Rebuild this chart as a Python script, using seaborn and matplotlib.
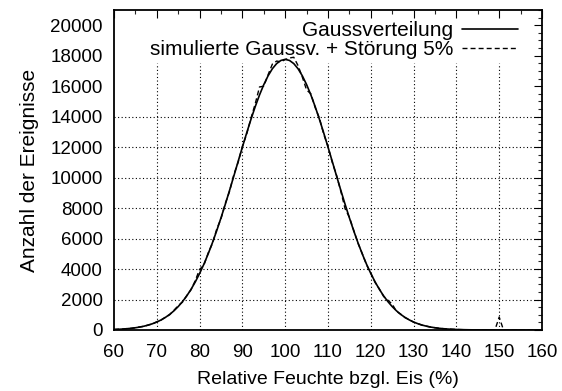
import matplotlib
matplotlib.use("Agg")
import matplotlib.pyplot as plt
import seaborn as sns
import pandas as pd
import numpy as np
from matplotlib.ticker import MultipleLocator

# ---- data ----
x_vals = list(range(60, 161))
gauss = [34, 46, 62, 84, 111, 147, 192, 250, 322, 413,
         524, 660, 825, 1022, 1258, 1537, 1862, 2238, 2670, 3159,
         3710, 4318, 4994, 5727, 6518, 7360, 8244, 9163, 10105, 11058,
         12006, 12933, 13824, 14660, 15425, 16104, 16681, 17145, 17484, 17690,
         17760,
         17690, 17484, 17145, 16681, 16104, 15425, 14660, 13824, 12933, 12006,
         11058, 10105, 9163, 8244, 7360, 6518, 5727, 4994, 4318, 3710,
         3159, 2670, 2238, 1862, 1537, 1258, 1022, 825, 660, 524,
         413, 322, 250, 192, 147, 111, 84, 62, 46, 34,
         25, 18, 13, 9, 6, 4, 3, 2, 1, 1,
         1, 0, 0, 0, 0, 0, 0, 0, 0, 0]
simuliert = [30, 50, 60, 90, 105, 150, 200, 240, 330, 400,
             540, 650, 840, 1000, 1290, 1600, 1830, 2260, 2640, 3250,
             3980, 4250, 5050, 5680, 6620, 7300, 8300, 9100, 10200, 11000,
             12050, 12850, 13900, 14850, 15950, 16000, 16750, 17450, 17650, 17600,
             17750,
             17850, 17900, 17350, 16600, 15750, 15500, 14600, 13900, 12850, 12050,
             11000, 10150, 9100, 7950, 7400, 6550, 5700, 5020, 4280, 3730,
             3120, 2700, 2200, 1950, 1700, 1220, 1040, 810, 680, 510,
             420, 310, 255, 185, 150, 105, 86, 60, 48, 32,
             26, 17, 14, 8, 6, 4, 3, 2, 1, 850,
             1, 0, 0, 0, 0, 0, 0, 0, 0, 0]
x_ticks = [60, 70, 80, 90, 100, 110, 120, 130, 140, 150, 160]
y_ticks = [0, 2000, 4000, 6000, 8000, 10000, 12000, 14000, 16000, 18000, 20000]
label_gauss = "Gaussverteilung"
label_sim = "simulierte Gaussv. + Störung 5%"

df_g = pd.DataFrame({"x": x_vals, "y": gauss})
df_s = pd.DataFrame({"x": x_vals, "y": simuliert})

sns.set_style("white")
plt.rcParams["font.family"] = ["Liberation Sans", "DejaVu Sans"]
plt.rcParams["text.color"] = "black"
plt.rcParams["axes.labelcolor"] = "black"
FS_TICK = 13.5
FS_XLAB = 14
FS_YLAB = 15
FS_LEG = 15

fig = plt.figure(figsize=(5.62, 3.91), dpi=100)
ax = fig.add_axes([114/562, 1 - 330/391, 428/562, 320/391])

# grid (dotted), hidden behind the opaque key area
grid_top = 17500
for gx in x_ticks[1:-1]:
    ax.plot([gx, gx], [0, grid_top], color="black", lw=0.8,
            linestyle=(0, (1, 2.2)), zorder=0.8)
for gy in y_ticks[1:-3]:
    ax.plot([60, 160], [gy, gy], color="black", lw=0.8,
            linestyle=(0, (1, 2.2)), zorder=0.8)

sns.lineplot(data=df_g, x="x", y="y", ax=ax, color="black", lw=1.2,
             label=label_gauss, zorder=3)
sns.lineplot(data=df_s, x="x", y="y", ax=ax, color="black", lw=1.0,
             label=label_sim, zorder=2.9)
ax.lines[-1].set_dashes((3.6, 2.2))

ax.set_xlim(60, 160)
ax.set_ylim(0, 21000)
ax.set_xticks(x_ticks)
ax.set_yticks(y_ticks)
ax.set_xticklabels([str(t) for t in x_ticks])
ax.set_yticklabels([str(t) for t in y_ticks])
ax.xaxis.set_minor_locator(MultipleLocator(5))
ax.yaxis.set_minor_locator(MultipleLocator(500))
ax.tick_params(which="major", direction="in", length=5.8, width=0.8,
               top=True, right=True, labelsize=FS_TICK, pad=8, colors="black")
ax.tick_params(axis="x", which="major", pad=10)
ax.tick_params(which="minor", direction="in", length=2.9, width=0.8,
               top=True, right=True)
for s in ax.spines.values():
    s.set_linewidth(1.3)
    s.set_color("black")

ax.set_xlabel("Relative Feuchte bzgl. Eis (%)", fontsize=FS_XLAB, labelpad=7)
ax.set_ylabel("Anzahl der Ereignisse", fontsize=FS_YLAB, labelpad=8)

leg = ax.legend(loc="upper right", bbox_to_anchor=(0.944, 0.965),
                frameon=False, markerfirst=False, handlelength=2.7,
                handletextpad=0.4, labelspacing=0.0, borderpad=0,
                borderaxespad=0, fontsize=FS_LEG)
leg.get_lines()[1].set_dashes((3.6, 2.2))
for t in leg.get_texts():
    t.set_ha("right")
    t.set_color("black")

fig.savefig("out.png", dpi=100)
